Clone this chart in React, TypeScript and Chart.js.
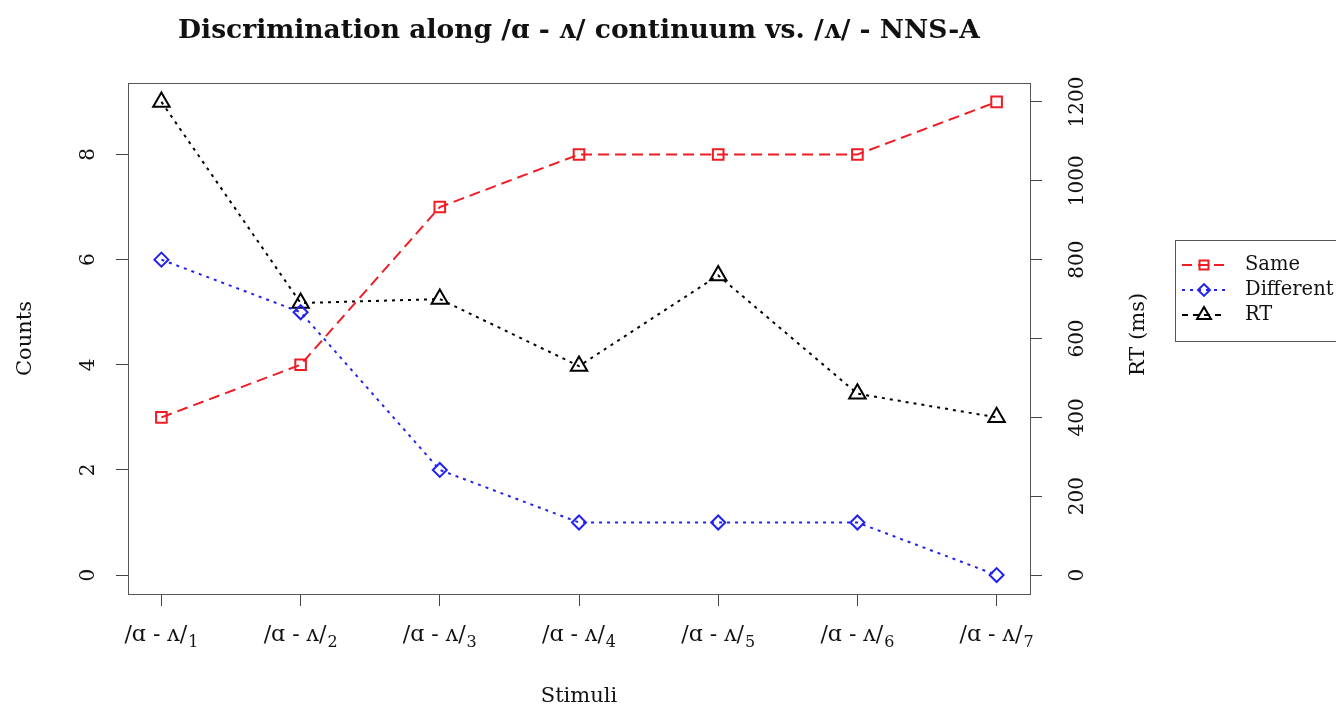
import React, { useEffect, useRef } from "react";
import { Chart, registerables } from "chart.js";

Chart.register(...registerables);

// ---- data ----
const stimulusBase = "/ɑ - ʌ/";
const stimulusIndex = ["1", "2", "3", "4", "5", "6", "7"];
const sameCounts = [3, 4, 7, 8, 8, 8, 9];
const differentCounts = [6, 5, 2, 1, 1, 1, 0];
const rtMs = [1200, 690, 700, 530, 760, 460, 400];
const countTicks = [0, 2, 4, 6, 8];
const rtTicks = [0, 200, 400, 600, 800, 1000, 1200];
const seriesNames = ["Same", "Different", "RT"];

const titleText = "Discrimination along /ɑ - ʌ/ continuum vs. /ʌ/ - NNS-A";
const xTitle = "Stimuli";
const yTitle = "Counts";
const y1Title = "RT (ms)";

const SERIF = "'DejaVu Serif', 'Liberation Serif', serif";
const RED = "#f01c24";
const BLUE = "#2222f0";
const BLACK = "#000000";

const colors = [RED, BLUE, BLACK];
const styles = ["rect", "rectRot", "triangle"];
const radii = [7.5, 7, 9.5];
const dashes = [[11, 6], [3, 5], [3, 5]];
const legendDashes = [[10, 6], [3, 5], [6, 5]];

function marker(ctx: CanvasRenderingContext2D, style: string, r: number, x: number, y: number) {
  ctx.beginPath();
  if (style === "rect") {
    const s = Math.SQRT1_2 * r;
    ctx.rect(x - s, y - s, 2 * s, 2 * s);
  } else if (style === "rectRot") {
    ctx.moveTo(x - r, y);
    ctx.lineTo(x, y - r);
    ctx.lineTo(x + r, y);
    ctx.lineTo(x, y + r);
    ctx.closePath();
  } else {
    ctx.moveTo(x, y - r);
    ctx.lineTo(x + r * Math.sin((2 * Math.PI) / 3), y - r * Math.cos((2 * Math.PI) / 3));
    ctx.lineTo(x + r * Math.sin((4 * Math.PI) / 3), y - r * Math.cos((4 * Math.PI) / 3));
    ctx.closePath();
  }
  ctx.stroke();
}

const decorPlugin = {
  id: "decor",
  afterDraw(chart: any) {
    const { ctx, chartArea: a } = chart;
    ctx.save();
    // plot box
    ctx.strokeStyle = "#555";
    ctx.lineWidth = 1;
    ctx.setLineDash([]);
    ctx.strokeRect(a.left + 0.5, a.top + 0.5, a.right - a.left, a.bottom - a.top);

    // x tick labels with subscripts, positioned by the x scale
    const xs = chart.scales.x;
    ctx.fillStyle = "#111";
    ctx.textBaseline = "middle";
    ctx.textAlign = "left";
    const mainFont = `22px ${SERIF}`;
    const subFont = `16px ${SERIF}`;
    xs.ticks.forEach((t: any) => {
      const k = Math.round(t.value) - 1;
      const px = xs.getPixelForValue(t.value);
      ctx.font = mainFont;
      const w1 = ctx.measureText(stimulusBase).width;
      ctx.font = subFont;
      const w2 = ctx.measureText(stimulusIndex[k]).width;
      const x0 = px - (w1 + w2 + 1) / 2;
      ctx.font = mainFont;
      ctx.fillText(stimulusBase, x0, 635);
      ctx.font = subFont;
      ctx.fillText(stimulusIndex[k], x0 + w1 + 1, 643);
    });

    // axis titles
    ctx.fillStyle = "#111";
    ctx.font = `21px ${SERIF}`;
    ctx.textAlign = "center";
    ctx.textBaseline = "middle";
    ctx.fillText(xTitle, (a.left + a.right) / 2, 697);

    ctx.save();
    ctx.translate(26, (a.top + a.bottom) / 2);
    ctx.rotate(-Math.PI / 2);
    ctx.fillText(yTitle, 0, 0);
    ctx.restore();

    ctx.save();
    ctx.translate(1139, (a.top + a.bottom) / 2 - 4);
    ctx.rotate(-Math.PI / 2);
    ctx.fillText(y1Title, 0, 0);
    ctx.restore();

    // legend
    const bx = 1175, by = 240, bw = 175, bh = 101;
    ctx.strokeStyle = "#555";
    ctx.lineWidth = 1;
    ctx.strokeRect(bx + 0.5, by + 0.5, bw, bh);
    const rowY = [265, 290, 315];
    for (let i = 0; i < 3; i++) {
      const y = rowY[i];
      ctx.strokeStyle = colors[i];
      ctx.lineWidth = 2;
      ctx.setLineDash(legendDashes[i]);
      ctx.beginPath();
      ctx.moveTo(1182, y);
      ctx.lineTo(1226, y);
      ctx.stroke();
      ctx.setLineDash([]);
      marker(ctx, styles[i], radii[i] * 0.85, 1204, y);
      ctx.fillStyle = "#111";
      ctx.font = `19.5px ${SERIF}`;
      ctx.textAlign = "left";
      ctx.textBaseline = "middle";
      ctx.fillText(seriesNames[i], 1245, y);
    }
    ctx.restore();
  },
};

export default function App() {
  const ref = useRef<HTMLCanvasElement | null>(null);

  useEffect(() => {
    const canvas = ref.current;
    if (!canvas) return;
    const mk = (vals: number[], i: number, axis: string) => ({
      label: seriesNames[i],
      data: vals.map((v, k) => ({ x: k + 1, y: v })),
      yAxisID: axis,
      borderColor: colors[i],
      backgroundColor: "rgba(0,0,0,0)",
      borderWidth: 2,
      borderDash: dashes[i],
      pointStyle: styles[i],
      pointRadius: radii[i],
      pointBorderWidth: 2,
      pointBorderColor: colors[i],
      pointBackgroundColor: "rgba(0,0,0,0)",
      tension: 0,
      fill: false,
    });

    const tickColor = "#444";
    const chart = new Chart(canvas, {
      type: "line",
      data: {
        datasets: [
          mk(sameCounts, 0, "y"),
          mk(differentCounts, 1, "y"),
          mk(rtMs, 2, "y1"),
        ] as any,
      },
      plugins: [decorPlugin],
      options: {
        animation: false,
        responsive: false,
        devicePixelRatio: 1,
        layout: { padding: 0 },
        plugins: {
          legend: { display: false },
          tooltip: { enabled: false },
          title: {
            display: true,
            text: titleText,
            fullSize: false,
            color: "#111",
            font: { family: "'DejaVu Serif', serif", size: 26.5, weight: "bold", lineHeight: 1.2 },
            padding: { top: 15, bottom: 83 - 15 - 31.8 },
          },
        },
        scales: {
          x: {
            type: "linear",
            min: 0.76,
            max: 7.24,
            afterBuildTicks: (s: any) => {
              s.ticks = stimulusIndex.map((_, k) => ({ value: k + 1 }));
            },
            afterFit: (s: any) => {
              s.height = 114;
            },
            grid: { display: true, drawOnChartArea: false, drawTicks: true, tickLength: 12, color: tickColor },
            border: { display: false },
            ticks: { display: false, autoSkip: false },
          },
          y: {
            type: "linear",
            position: "left",
            min: -0.36,
            max: 9.36,
            afterBuildTicks: (s: any) => {
              s.ticks = countTicks.map((v) => ({ value: v }));
            },
            afterFit: (s: any) => {
              s.width = 128;
            },
            grid: { display: true, drawOnChartArea: false, drawTicks: true, tickLength: 12, color: tickColor },
            border: { display: false },
            ticks: {
              color: "#111",
              padding: 21,
              minRotation: 90,
              maxRotation: 90,
              crossAlign: "center",
              font: { family: SERIF, size: 20 },
              callback: (v: any) => String(v),
            },
          },
          y1: {
            type: "linear",
            position: "right",
            min: -48,
            max: 1248,
            afterBuildTicks: (s: any) => {
              s.ticks = rtTicks.map((v) => ({ value: v }));
            },
            afterFit: (s: any) => {
              s.width = 306;
            },
            grid: { display: true, drawOnChartArea: false, drawTicks: true, tickLength: 12, color: tickColor },
            border: { display: false },
            ticks: {
              color: "#111",
              padding: 10,
              minRotation: 90,
              maxRotation: 90,
              crossAlign: "center",
              font: { family: SERIF, size: 20 },
              callback: (v: any) => String(v),
            },
          },
        },
      } as any,
    });
    return () => chart.destroy();
  }, []);

  return (
    <div style={{ position: "absolute", left: 0, top: 0, width: 1336, height: 708, background: "#fff" }}>
      <canvas ref={ref} width={1336} height={708} style={{ width: 1336, height: 708, display: "block" }} />
    </div>
  );
}
